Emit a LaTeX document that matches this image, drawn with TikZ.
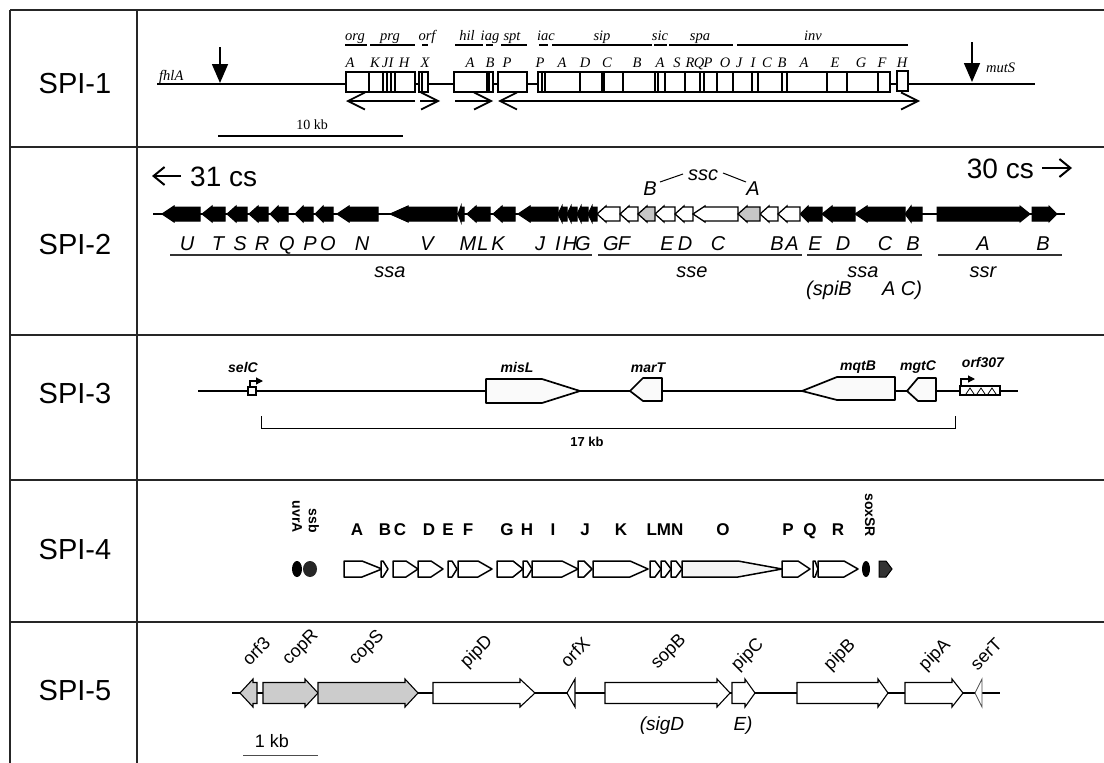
\documentclass[tikz,border=0pt]{standalone}
\usepackage{fontspec}
\setmainfont{Liberation Serif}
\setsansfont{Liberation Sans}
\usetikzlibrary{arrows.meta}
\newcount\labc
\newcommand\lab[3][]{\global\advance\labc by 1\relax\node[#1] (lab\the\labc) at (#2) {#3};}
\newcommand\letrow[3]{\foreach \xx/\ltr in {#3}{\lab[#2]{\xx,#1}{\ltr}}}
% left-pointing gene: [style]{tip}{end}{headlen}
\newcommand\gL[4][]{\draw[#1] (#2,\gy) -- (#2+#4,\gy-\hh) -- (#2+#4,\gy-\bh) -- (#3,\gy-\bh) -- (#3,\gy+\bh) -- (#2+#4,\gy+\bh) -- (#2+#4,\gy+\hh) -- cycle;}
% right-pointing gene: [style]{start}{tip}{headlen}
\newcommand\gR[4][]{\draw[#1] (#2,\gy-\bh) -- (#3-#4,\gy-\bh) -- (#3-#4,\gy-\hh) -- (#3,\gy) -- (#3-#4,\gy+\hh) -- (#3-#4,\gy+\bh) -- (#2,\gy+\bh) -- cycle;}
\newcommand\fs[1]{\fontsize{#1}{#1}\selectfont}
\begin{document}
\begin{tikzpicture}[x=1pt,y=-1pt,
  frame/.style={line width=1.4pt,black!85},
  spilab/.style={font=\sffamily\fs{29},anchor=base,inner sep=0pt},
  sone/.style={font=\itshape\fs{14.5},anchor=base,inner sep=0pt},
  onebox/.style={draw,line width=1.7pt,fill=white},
  oneline/.style={line width=1.6pt},
  tr/.style={line width=1.7pt,-{Straight Barb[length=17pt,width=17pt,line width=1.7pt]}},
  trb/.style={line width=1.7pt,{Straight Barb[length=17pt,width=17pt,line width=1.7pt]}-{Straight Barb[length=17pt,width=17pt,line width=1.7pt]}},
  downarr/.style={line width=1.6pt,-{Triangle[length=19pt,width=16pt]}},
  stwo/.style={font=\sffamily\itshape\fs{20},anchor=base,inner sep=0pt},
  bigtxt/.style={font=\sffamily\fs{28},anchor=base,inner sep=0pt},
  gblack/.style={draw=black,fill=black,line width=1pt},
  gwhite/.style={draw=black,fill=white,line width=1.3pt},
  ggray/.style={draw=black,fill=gray!45,line width=1.3pt},
  sthree/.style={font=\sffamily\bfseries\itshape\fs{14},anchor=base,inner sep=0pt},
  g3/.style={draw=black,fill=gray!4,line width=1.7pt,line join=round},
  sfour/.style={font=\sffamily\bfseries\fs{17},anchor=base,inner sep=0pt},
  sfourr/.style={font=\sffamily\bfseries\fs{14},anchor=east,rotate=-90,inner sep=0pt},
  g4/.style={draw=black,fill=white,line width=1.5pt,line join=round},
  sfive/.style={font=\sffamily\fs{18},rotate=45,inner sep=0pt},
  sfivei/.style={font=\sffamily\itshape\fs{19},anchor=base,inner sep=0pt},
  g5/.style={draw=black,fill=white,line width=1.1pt},
  g5d/.style={draw=black,fill=black!20,line width=1.1pt}
]
\useasboundingbox (0,0) rectangle (1104,763);
\fill[white] (0,0) rectangle (1104,763);
% ---------- table frame ----------
\draw[frame] (10,10) -- (1104,10);
\draw[frame] (10,10) -- (10,763);
\draw[frame] (137,10) -- (137,763);
\foreach \yy in {147,335,480,622} \draw[frame] (10,\yy) -- (1104,\yy);
\node[spilab] (spi1) at (75,93) {SPI-1};
\node[spilab] (spi2) at (75,254) {SPI-2};
\node[spilab] (spi3) at (75,403) {SPI-3};
\node[spilab] (spi4) at (75,559) {SPI-4};
\node[spilab] (spi5) at (75,700) {SPI-5};

% ---------- SPI-1 ----------
\draw[oneline] (157,84) -- (1035,84);
\node[sone,anchor=base west] (fhla) at (159,80) {fhlA};
\node[sone,anchor=base west] (muts) at (986,72) {mutS};
\draw[downarr] (220,47) -- (220,83);
\draw[downarr] (972,42) -- (972,82);
\draw[onebox] (346,72) rectangle (415,92);
\foreach \xx in {369,383,387,391,395} \draw[line width=1.7pt] (\xx,72) -- (\xx,92);
\draw[onebox] (419,72) rectangle (428,92);
\draw[line width=1.5pt] (422,72) -- (422,92);
\draw[onebox] (454,72) rectangle (487,92);
\draw[onebox] (487,72) rectangle (493,92);
\draw[line width=1.5pt] (489,72) -- (489,92);
\draw[onebox] (498,72) rectangle (527,92);
\draw[onebox] (538,72) rectangle (890,92);
\foreach \xx in {542,545,580,602,604,623,655,658,665,685,700,704,717,733,752,758,782,787,827,847,878}
  \draw[line width=1.7pt] (\xx,72) -- (\xx,92);
\draw[onebox] (897,71) rectangle (908,91);
% operon names and overlines
\letrow{40}{sone}{355/org,390/prg,427/orf,467/hil,490/iag,512/spt,546/iac,602/sip,660/sic,700/spa,813/inv}
\foreach \a/\b in {345/367,370/415,422/428,455/483,486/493,501/527,539/548,552/652,654/667,669/733,737/908}
  \draw[line width=1.8pt] (\a,45) -- (\b,45);
\letrow{67}{sone}{350/A,375/K,385/J,391/I,404/H,425/X,470/A,490/B,507/P,540/P,562/A,585/D,607/C,637/B,660/A,677/S,690/R,699/Q,708/P,725/O,739/J,753/I,767/C,782/B,804/A,835/E,861/G,882/F,902/H}
% transcription arrows
\draw[tr] (415,101) -- (346,101);
\draw[tr] (420,101) -- (440,101);
\draw[tr] (455,101) -- (493,101);
\draw[trb] (498,101) -- (920,101);
% scale bar
\draw[line width=1.8pt] (218,136) -- (403,136);
\node[font=\fs{14},anchor=base,inner sep=0pt] (kb10) at (312,129) {10 kb};

% ---------- SPI-2 ----------
\def\gy{214}\def\hh{8}\def\bh{7}
\draw[line width=1.5pt] (153,214) -- (1065,214);
\foreach \t/\e/\h in {162/200/12,202/225/10,227/247/9,249/268/9,270/288/8,295/313/8,315/333/8,337/378/12,390/457/18,458/464/3,467/490/9,493/515/9,518/558/12,558/567/4,567/577/4,577/588/4,588/597/4,800/822/8,822/855/10,855/905/12,905/922/6}
  {\gL[gblack]{\t}{\e}{\h}}
\foreach \t/\e/\h in {597/620/9,620/638/9,655/675/9,675/693/9,693/738/12,760/778/9,778/800/9}
  {\gL[gwhite]{\t}{\e}{\h}}
\gL[ggray]{638}{655}{9}
\gL[ggray]{738}{760}{9}
\gR[gblack]{937}{1030}{10}
\gR[gblack]{1032}{1057}{8}
\letrow{250}{stwo}{187/U,218/T,240/S,262/R,287/Q,310/P,328/O,362/N,427/V,468/M,483/L,498/K,540/J,558/I,570/H,583/G,611/G,624/F,667/E,685/D,718/C,777/B,792/A,815/E,843/D,885/C,913/B,983/A,1043/B}
\foreach \a/\b in {170/592,598/802,807/922,938/1062}
  \draw[line width=1.1pt,black!80] (\a,255) -- (\b,255);
\letrow{277}{stwo}{390/ssa,692/sse,863/ssa,983/ssr}
\lab[stwo]{829,295}{(spiB}
\lab[stwo]{902,295}{A C)}
\lab[stwo]{650,195}{B}
\lab[stwo]{703,180}{ssc}
\lab[stwo]{753,195}{A}
\draw[line width=1pt] (660,182) -- (683,174);
\draw[line width=1pt] (723,173) -- (746,182);
\draw[line width=2pt,-{Straight Barb[length=11pt,width=18pt,line width=2pt]}] (181,176) -- (152,176);
\node[bigtxt,anchor=base west] (cs31) at (190,186) {31 cs};
\node[bigtxt,anchor=base east] (cs30) at (1034,178) {30 cs};
\draw[line width=2pt,-{Straight Barb[length=11pt,width=18pt,line width=2pt]}] (1042,168) -- (1072,168);

% ---------- SPI-3 ----------
\draw[line width=1.5pt] (198,391) -- (1018,391);
\draw[line width=1.2pt,fill=white] (248,387) rectangle (256,395);
\draw[line width=1.2pt,-{Triangle[length=7pt,width=7pt]}] (250,387) -- (250,381) -- (263,381);
\draw[g3] (486,379) -- (542,379) -- (580,391) -- (542,403) -- (486,403) -- cycle;
\draw[g3] (630,391) -- (643,378) -- (662,378) -- (662,401) -- (643,401) -- cycle;
\draw[g3] (802,391) -- (837,377) -- (895,377) -- (895,400) -- (837,400) -- cycle;
\draw[g3] (907,391) -- (918,378) -- (936,378) -- (936,401) -- (918,401) -- cycle;
\draw[line width=1.1pt,fill=white] (960,386) rectangle (1000,395);
\foreach \xx in {966,977,988} \draw[line width=0.8pt] (\xx,394) -- (\xx+4,388) -- (\xx+8,394);
\draw[line width=1.2pt,-{Triangle[length=7pt,width=7pt]}] (961,386) -- (961,379) -- (975,379);
\letrow{372}{sthree}{243/selC,517/misL,648/marT}
\letrow{370}{sthree}{858/mqtB,918/mgtC}
\lab[sthree]{983,367}{orf307}
\draw[line width=1pt] (261,416) -- (261,428) -- (955,428) -- (955,416);
\lab[font=\sffamily\bfseries\fs{13},anchor=base,inner sep=0pt]{587,446}{17 kb}

% ---------- SPI-4 ----------
\def\gy{569}\def\hh{8}\def\bh{8}
\foreach \s/\t/\h in {344/382/20,381/388/5,393/418/12,418/443/12,448/457/5,458/492/14,497/523/10,523/532/5,532/578/16,578/592/8,593/648/18,650/661/6,661/671/6,671/682/6,782/810/12,813/818/3,818/858/14}
  {\gR[g4]{\s}{\t}{\h}}
\gR[g4,fill=gray!8]{682}{782}{44}
\fill[black] (297,569) ellipse [x radius=5, y radius=8];
\fill[black!85] (310,569) ellipse [x radius=7, y radius=8];
\fill[black] (866,569) ellipse [x radius=4, y radius=8];
\gR[draw=black,fill=black!80,line width=1pt]{879}{892}{6}
\letrow{535}{sfour}{357/A,385/B,400/C,429/D,448/E,468/F,507/G,527/H,553/I,585/J,621/K,665/LMN,723/O,788/P,810/Q,838/R}
\lab[sfourr]{297,533}{uvrA}
\lab[sfourr]{314,533}{ssb}
\lab[sfourr]{870,537}{soxSR}

% ---------- SPI-5 ----------
\def\gy{693}\def\hh{14}\def\bh{10.5}
\draw[line width=1.2pt] (232,693) -- (1000,693);
\gL[g5d]{240}{257}{13}
\gR[g5d]{263}{318}{13}
\gR[g5d]{318}{418}{13}
\gR[g5]{433}{535}{15}
\gL[g5]{567}{575}{8}
\gR[g5]{605}{730}{13}
\gR[g5]{732}{755}{10}
\gR[g5]{797}{888}{10}
\gR[g5]{905}{963}{11}
\gL[g5,line width=0.8pt,draw=black!70]{975}{982}{7}
\lab[sfive]{256,651}{orf3}
\lab[sfive]{301,648}{copR}
\lab[sfive]{367,648}{copS}
\lab[sfive]{477,652}{pipD}
\lab[sfive]{575,652}{orfX}
\lab[sfive]{669,652}{sopB}
\lab[sfive]{748,655}{pipC}
\lab[sfive]{840,655}{pipB}
\lab[sfive]{935,655}{pipA}
\lab[sfive]{986,654}{serT}
\lab[sfivei]{662,730}{(sigD}
\lab[sfivei]{743,730}{E)}
\draw[line width=1pt,black!70] (243,755) -- (318,755);
\lab[font=\sffamily\fs{18},anchor=base,inner sep=0pt]{272,747}{1 kb}
\end{tikzpicture}
\end{document}
